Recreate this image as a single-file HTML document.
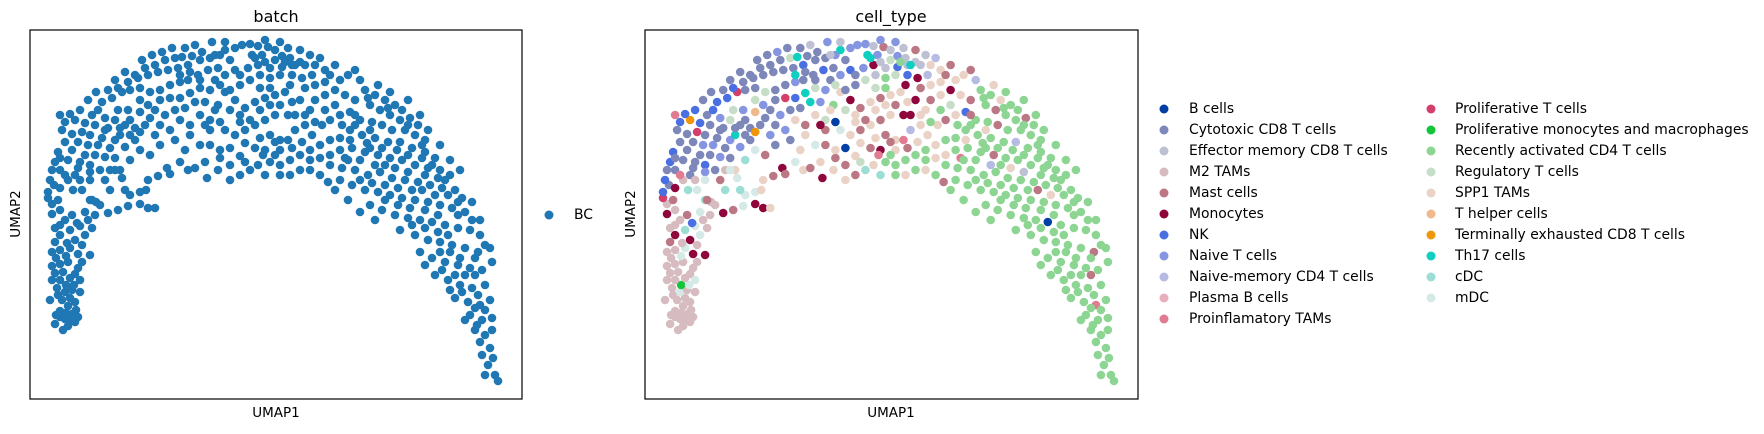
<!DOCTYPE html>
<html><head><meta charset="utf-8"><style>
html,body{margin:0;padding:0;background:#fff;}
svg text{font-family:"DejaVu Sans","Liberation Sans",sans-serif;fill:#000;}
</style></head><body>
<svg id="fig" width="1764" height="429" xmlns="http://www.w3.org/2000/svg">
<rect width="1764" height="429" fill="#fff"/>
<g id="left-points"></g>
<g id="right-points"></g>
<rect x="30" y="30" width="492" height="369" fill="none" stroke="#000" stroke-width="1.2"/>
<rect x="645" y="30" width="493" height="369" fill="none" stroke="#000" stroke-width="1.2"/>
<text x="276" y="22" font-size="16" text-anchor="middle">batch</text>
<text x="891" y="22" font-size="16" text-anchor="middle">cell_type</text>
<text x="276" y="417" font-size="13.5" text-anchor="middle">UMAP1</text>
<text x="891" y="417" font-size="13.5" text-anchor="middle">UMAP1</text>
<text transform="translate(20,214) rotate(-90)" font-size="13.5" text-anchor="middle">UMAP2</text>
<text transform="translate(635,214) rotate(-90)" font-size="13.5" text-anchor="middle">UMAP2</text>
<g>
<circle cx="549" cy="215" r="4.5" fill="#1f77b4"/>
<text x="574" y="215" font-size="13.9" dominant-baseline="central">BC</text>
</g>
<g id="legend"></g>
</svg>
<script>
const categories = ["B cells","Cytotoxic CD8 T cells","Effector memory CD8 T cells","M2 TAMs","Mast cells","Monocytes","NK","Naive T cells","Naive-memory CD4 T cells","Plasma B cells","Proinflamatory TAMs","Proliferative T cells","Proliferative monocytes and macrophages","Recently activated CD4 T cells","Regulatory T cells","SPP1 TAMs","T helper cells","Terminally exhausted CD8 T cells","Th17 cells","cDC","mDC"];
const categoryColors = ["#023fa5","#7d87b9","#bec1d4","#d6bcc0","#bb7784","#8e063b","#4a6fe3","#8595e1","#b5bbe3","#e6afb9","#e07b91","#d33f6a","#11c638","#8dd593","#c6dec7","#ead3c6","#f0b98d","#ef9708","#0fcfc0","#9cded6","#d5eae7"];
const codeLetters = "abcdefghijklmnopqrstu";
const cellData = "26,285,d;30,287,d;35,289,d;40,290,d;45,292,d;48,287,d;42,284,d;36,283,d;30,281,d;46,280,d;38,276,d;32,270,d;28,265,d;40,268,d;45,272,d;35,262,u;42,260,d;27,258,d;36,255,m;44,255,u;30,250,d;40,248,d;25,243,d;33,242,d;45,244,d;22,236,d;30,234,d;38,232,d;26,228,d;36,226,u;48,238,d;48,224,f;30,220,d;40,218,u;22,222,d;25,212,e;37,213,d;45,210,f;55,205,u;62,198,d;30,205,f;40,200,t;50,196,u;25,198,d;58,190,d;35,190,d;47,193,g;22,184,f;30,180,d;42,185,e;22,174,d;18,168,l;18,162,g;28,170,e;55,182,u;65,185,d;66,172,d;60,170,t;24,155,b;30,158,f;38,150,d;43,160,t;52,160,u;62,170,e;70,175,d;78,183,f;88,180,e;98,176,u;110,174,f;118,178,f;125,178,p;100,165,u;95,160,t;110,162,u;92,148,u;116,160,p;118,150,p;128,146,e;137,138,f;140,144,e;150,132,u;158,140,p;165,138,e;175,132,p;177,148,f;188,140,p;190,128,e;200,135,e;210,126,p;215,132,o;30,140,b;35,145,k;45,145,b;25,132,g;38,130,b;50,132,b;60,135,g;28,122,g;42,120,b;55,125,b;65,125,b;75,127,h;35,112,b;48,112,b;58,115,h;68,115,h;80,118,b;32,100,b;42,104,b;52,102,l;60,105,b;72,108,b;85,110,h;35,92,g;45,90,r;55,93,g;65,95,b;78,98,b;30,85,k;40,84,g;50,80,g;62,85,b;75,88,h;85,90,o;95,95,b;100,105,b;105,110,b;90,105,s;95,117,h;105,98,b;110,102,r;115,95,b;88,80,o;98,80,h;110,82,q;120,88,b;72,72,g;82,68,g;92,62,l;100,60,b;110,58,b;120,62,o;130,60,b;140,55,b;150,52,h;158,50,b;168,45,b;78,60,b;88,58,g;98,52,b;108,48,b;118,45,b;128,42,b;138,40,b;148,38,b;158,35,g;170,30,b;180,28,b;190,25,h;105,45,b;115,38,b;125,35,b;135,30,b;145,28,o;152,27,s;162,26,b;172,22,b;185,25,c;195,20,s;205,18,h;200,30,b;178,40,g;188,38,b;130,70,b;140,68,l;150,68,g;160,63,s;170,58,o;135,85,h;145,80,b;155,78,b;165,72,s;175,72,h;118,75,h;125,80,b;110,70,o;185,50,b;195,45,h;205,40,g;210,55,b;212,15,h;220,14,h;228,16,c;238,17,e;232,25,h;245,20,c;252,26,h;260,28,c;222,25,s;218,38,h;228,35,f;240,38,c;252,37,g;262,35,i;270,32,c;245,30,o;255,32,n;265,35,s;275,35,c;210,45,b;220,50,o;230,45,c;240,48,n;250,45,o;262,45,g;272,48,f;285,35,p;295,40,p;305,35,e;170,85,p;180,90,o;190,92,a;200,80,o;195,100,u;205,105,p;180,100,e;215,100,e;225,95,p;235,90,e;245,85,p;258,85,f;240,105,e;250,110,p;265,100,i;275,95,p;190,120,p;200,118,a;215,113,p;225,118,e;235,120,f;250,120,p;262,118,e;272,112,p;282,105,p;292,95,p;300,90,e;280,80,p;270,70,f;285,70,e;295,65,p;305,60,f;255,62,p;245,65,p;235,68,e;225,72,p;215,78,e;205,70,f;195,62,p;188,75,n;310,50,p;318,45,p;325,40,e;330,50,i;315,65,p;325,70,e;320,82,g;310,85,p;300,110,n;290,115,p;280,120,n;270,125,n;260,130,n;250,135,n;240,132,n;228,135,p;220,140,t;233,125,k;245,125,n;258,110,k;285,92,n;295,80,n;305,75,o;335,60,n;345,65,n;355,70,p;365,75,n;372,80,n;340,75,n;350,80,e;360,85,n;370,90,n;380,88,e;388,95,n;330,90,n;342,92,n;352,95,e;362,100,n;375,100,n;385,105,n;395,110,n;320,100,n;332,105,n;345,108,n;358,112,n;370,112,i;382,118,n;395,122,n;405,128,n;310,120,n;322,118,n;335,122,n;348,125,e;360,128,n;372,130,n;385,135,n;398,138,n;410,140,n;420,145,n;300,135,n;312,138,n;325,140,n;338,145,n;350,142,n;362,148,n;375,150,n;388,152,n;400,155,n;412,158,n;425,160,n;432,168,n;310,150,n;322,155,n;335,160,n;348,162,n;360,165,n;372,168,n;385,170,n;398,172,n;410,175,n;422,178,n;435,182,n;340,175,n;352,180,n;365,185,n;378,188,n;390,190,n;402,192,a;415,195,n;428,198,n;440,200,n;450,205,n;370,200,n;385,205,n;398,210,n;410,212,n;422,215,n;435,218,n;448,222,e;460,218,n;390,222,n;402,228,n;415,232,n;428,235,n;440,238,n;452,240,n;462,232,n;405,245,n;418,250,n;430,255,n;442,258,n;455,255,n;425,268,n;438,272,n;450,275,k;460,270,n;440,285,n;452,290,n;462,288,n;445,300,n;455,305,n;460,318,n;452,325,n;458,335,n;465,345,n;468,351,n;300,125,p;315,128,k;280,140,p;290,145,n;305,160,n;318,170,n;330,182,n;345,190,n;298,152,e;378,142,c;392,160,e;405,165,p;365,138,p;345,135,i;330,130,n;418,205,n;430,228,n;445,245,e;395,180,n;408,185,n;380,178,n;355,155,n;320,110,p;340,100,p;310,108,n;338,68,n;358,78,n;378,95,n;392,115,n;402,135,n;415,150,n;428,172,n;442,190,n;455,215,n;445,228,n;435,245,n;448,265,n;432,262,n;455,280,n;447,295,n;462,300,n;450,312,n;463,328,n;455,345,n;325,95,n;337,113,n;352,118,n;367,120,n;378,125,n;392,128,n;318,130,n;330,150,n;342,153,n;355,170,n;368,175,n;382,195,n;395,198,n;408,202,n;420,222,n;410,222,n;395,235,n;412,240,n;425,245,n;420,260,n;435,290,n;445,278,n;368,158,n;382,160,n;395,145,n;408,148,n;418,165,n;428,185,n;442,172,n;450,190,n;355,135,n;340,118,n;325,85,e;312,95,n;348,55,p;360,62,n;378,70,n;390,85,n;398,100,n;410,115,n;420,130,n;430,140,n;20,150,g;22,140,b;30,128,b;48,138,b;60,142,h;70,140,b;85,128,b;90,140,p;80,140,d;75,100,b;90,98,b;100,90,b;68,80,g;58,70,b;66,62,b;85,50,b;95,42,b;112,30,b;122,25,b;132,22,h;142,18,b;155,18,b;165,15,c;182,12,h;195,12,c;160,42,b;150,45,s;170,50,b;180,60,h;190,55,o;200,60,b;150,90,p;160,95,e;130,95,b;140,100,h;145,110,b;160,105,p;170,115,u;180,115,e;155,120,p;130,115,b;120,125,e;125,105,h;110,120,u;100,130,t;85,140,u;75,150,e;80,160,t;60,150,u;50,150,d;30,195,d;52,215,d;60,225,f;52,232,d;22,250,d;20,270,d;50,262,d;50,250,u;25,294,d;38,296,d;33,300,d;210,85,p;220,90,e;230,80,p;240,75,p;250,75,e;262,72,p;275,85,p;265,85,f;285,55,p;295,52,p;275,58,e;260,55,f;240,58,n;230,58,o;282,45,i;300,45,e;290,28,i;280,25,c;270,20,e;258,18,c;250,12,h;235,10,h;225,28,s;235,32,c;270,140,n;280,130,n;290,128,p;260,145,p;250,145,n;235,145,t;210,145,e;200,150,p;230,108,p;245,112,e;210,92,p;185,80,p;175,95,f";
const cellTriples = cellData.split(";").map(s => s.split(","));
const umap1 = cellTriples.map(t => +t[0]);
const umap2 = cellTriples.map(t => +t[1]);
const cellType = cellTriples.map(t => codeLetters.indexOf(t[2]));
const xDomain = [0, 492];
const yDomain = [0, 369];

const NS = "http://www.w3.org/2000/svg";
function makeScale(d0, d1, r0, r1){ return v => r0 + (v - d0) / (d1 - d0) * (r1 - r0); }
const leftX = makeScale(xDomain[0], xDomain[1], 30, 522);
const leftY = makeScale(yDomain[0], yDomain[1], 30, 399);
const rightX = makeScale(xDomain[0], xDomain[1], 645, 1138);
const rightY = makeScale(yDomain[0], yDomain[1], 30, 399);

const gl = document.getElementById("left-points");
const gr = document.getElementById("right-points");
for (let i = 0; i < umap1.length; i++) {
  const c = document.createElementNS(NS, "circle");
  c.setAttribute("cx", leftX(umap1[i]).toFixed(1));
  c.setAttribute("cy", leftY(umap2[i]).toFixed(1));
  c.setAttribute("r", "4.3");
  c.setAttribute("fill", "#1f77b4");
  
  
  gl.appendChild(c);
}
for (let i = 0; i < umap1.length; i++) {
  const c = document.createElementNS(NS, "circle");
  c.setAttribute("cx", rightX(umap1[i]).toFixed(1));
  c.setAttribute("cy", rightY(umap2[i]).toFixed(1));
  c.setAttribute("r", "4.3");
  c.setAttribute("fill", categoryColors[cellType[i]]);
  
  
  gr.appendChild(c);
}
const lg = document.getElementById("legend");
categories.forEach((name, i) => {
  const col = i < 11 ? 0 : 1;
  const row = i < 11 ? i : i - 11;
  const mx = col === 0 ? 1164 : 1431;
  const tx = col === 0 ? 1189 : 1455;
  const y = 109 + row * 21;
  const m = document.createElementNS(NS, "circle");
  m.setAttribute("cx", mx); m.setAttribute("cy", y); m.setAttribute("r", "4.5");
  m.setAttribute("fill", categoryColors[i]);
  
  
  lg.appendChild(m);
  const t = document.createElementNS(NS, "text");
  t.setAttribute("x", tx); t.setAttribute("y", y);
  t.setAttribute("font-size", "13.9");
  t.setAttribute("dominant-baseline", "central");
  t.textContent = name;
  
  
  lg.appendChild(t);
});
</script>
</body></html>
